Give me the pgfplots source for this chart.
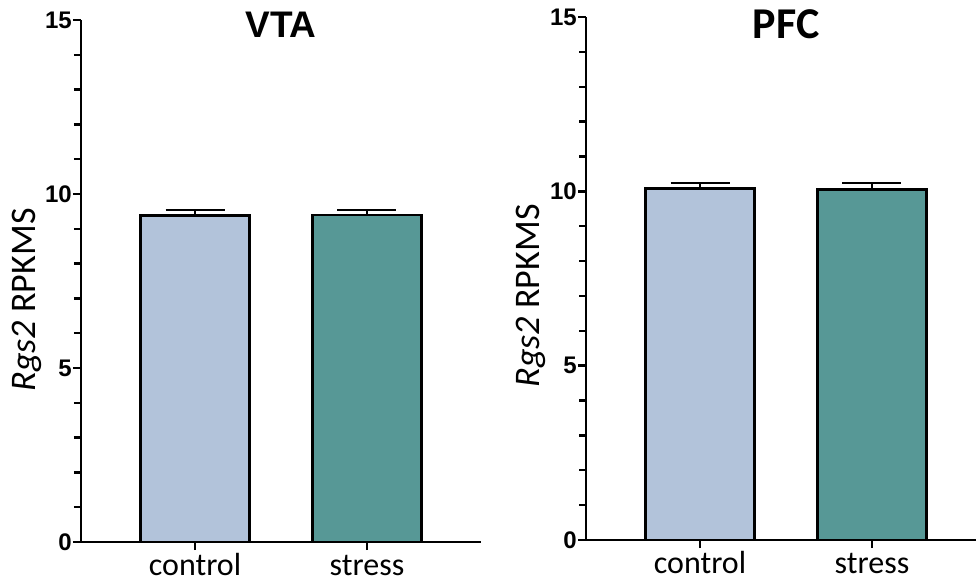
\documentclass[border=0pt]{standalone}
\usepackage{fontspec}
\setmainfont{Carlito}
\newfontfamily\arial{Liberation Sans}
\usepackage{pgfplots}
\pgfplotsset{compat=1.18}
\definecolor{ctrl}{RGB}{178,195,218}
\definecolor{strs}{RGB}{87,152,150}
\pgfplotsset{panel/.style={
  scale only axis, width=400pt,
  ymin=0, ymax=15, ytick={0,5,10,15}, minor y tick num=4,
  xmin=-0.663, xmax=1.663, xtick={0,1}, xticklabels={control,stress},
  axis x line*=bottom, axis y line*=left,
  axis line style={line width=2.8pt, -},
  every tick/.style={line width=2.4pt, black},
  major tick length=8pt, minor tick length=7pt, tick align=outside,
  ybar, bar width=109pt, bar shift=0pt, clip=false,
  /pgf/number format/assume math mode=true,
  yticklabel style={font=\fontsize{24}{26}\selectfont\bfseries\arial, inner sep=1pt},
  xticklabel style={font=\fontsize{32}{34}\selectfont, inner sep=0pt, anchor=north, text height=22pt, text depth=6pt, yshift=-3pt},
  ylabel={\textit{Rgs2} RPKMS},
  ylabel style={font=\fontsize{36}{38}\selectfont, anchor=center},
  title style={at={(axis description cs:0.5,1)}, anchor=base},
}}
\pgfplotsset{ebar/.style={draw=black, line width=2.6pt,
    error bars/y dir=plus, error bars/y explicit,
    error bars/error bar style={line width=1.8pt},
    error bars/error mark options={rotate=90, mark size=29.5pt, line width=1.8pt}}}
\begin{document}
\begin{tikzpicture}
\path[use as bounding box] (0,0) rectangle (976pt,584pt);
\begin{axis}[panel, at={(81pt,42pt)}, anchor=south west, height=522pt,
  ylabel style={at={(axis description cs:-0.135,0.464)}},
  title={VTA}, title style={font=\fontsize{37}{40}\selectfont\bfseries\arial, yshift=-24pt}]
\addplot[ebar, fill=ctrl] coordinates {(0,9.39) +- (0,0.14)};
\addplot[ebar, fill=strs] coordinates {(1,9.40) +- (0,0.14)};
\end{axis}
\begin{axis}[panel, at={(586pt,44pt)}, anchor=south west, height=523pt,
  ylabel style={at={(axis description cs:-0.1375,0.467)}},
  title={PFC}, title style={font=\fontsize{44}{46}\selectfont\bfseries, yshift=-28pt}]
\addplot[ebar, fill=ctrl] coordinates {(0,10.08) +- (0,0.17)};
\addplot[ebar, fill=strs] coordinates {(1,10.05) +- (0,0.18)};
\end{axis}
\end{tikzpicture}
\end{document}
